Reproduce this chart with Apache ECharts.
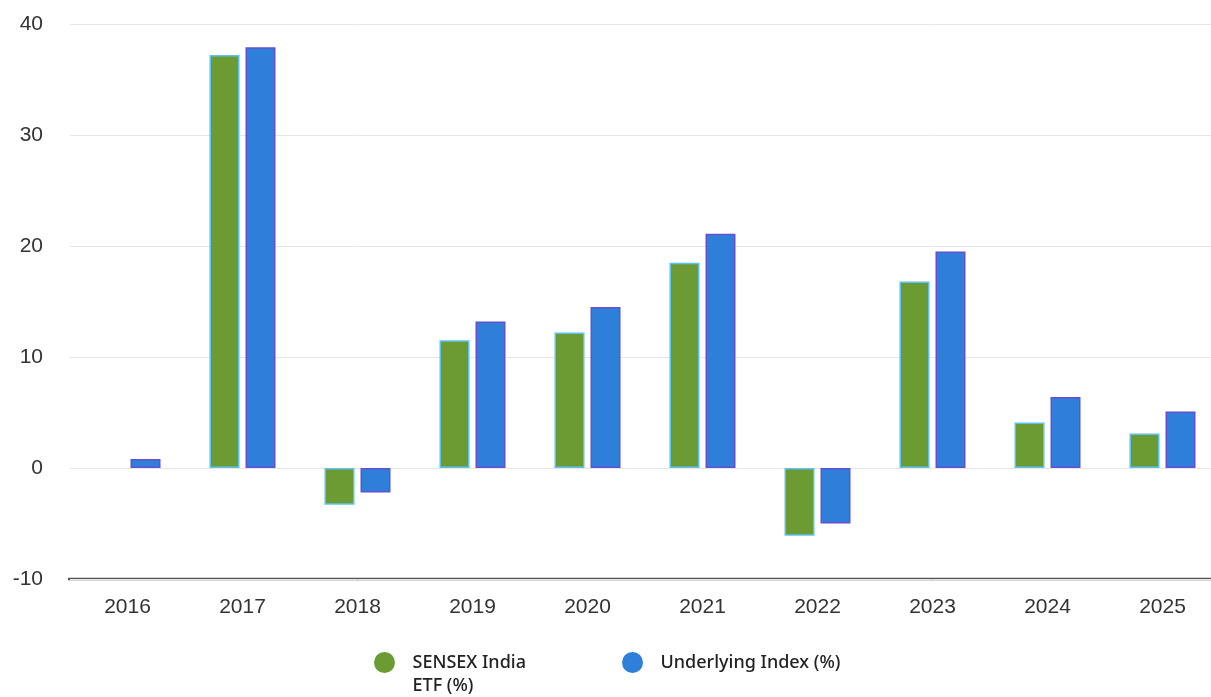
<!DOCTYPE html>
<html>
<head>
<meta charset="utf-8">
<script src="https://cdn.jsdelivr.net/npm/echarts@6/dist/echarts.min.js"></script>
<style>
  html, body { margin: 0; padding: 0; background: #fff; overflow: hidden; }
  #chart { width: 1220px; height: 697px; }
</style>
</head>
<body>
<div id="chart"></div>
<script>
const years = ['2016', '2017', '2018', '2019', '2020', '2021', '2022', '2023', '2024', '2025']
const etfValues = [null, 37.2, -3.3, 11.5, 12.2, 18.5, -6.1, 16.8, 4.1, 3.1]
const indexValues = [0.8, 37.9, -2.2, 13.2, 14.5, 21.1, -5.0, 19.5, 6.4, 5.1]
const yTicks = [-10, 0, 10, 20, 30, 40]

const legendText = { fontFamily: 'Noto Sans', fontSize: 18, fontWeight: 500, color: '#222', lineHeight: 23, padding: [0, 0, 0, 12] }

const myChart = echarts.init(document.getElementById('chart'))
let option = {
  animation: false,
  grid: { left: 70, top: 24, right: 0, bottom: 118, containLabel: false },
  legend: [
    {
      data: ['SENSEX India ETF (%)'],
      left: 369,
      top: 623,
      itemWidth: 22,
      itemHeight: 21,
      icon: 'circle',
      itemStyle: { borderWidth: 0 },
      textStyle: legendText,
      formatter: () => ' \nSENSEX India\nETF (%)'
    },
    {
      data: ['Underlying Index (%)'],
      left: 617,
      top: 646,
      itemWidth: 22,
      itemHeight: 21,
      icon: 'circle',
      itemStyle: { borderWidth: 0 },
      textStyle: legendText
    }
  ],
  xAxis: {
    type: 'category',
    data: years,
    axisTick: { show: false },
    axisLine: { show: false },
    axisLabel: { fontFamily: 'Liberation Sans', fontSize: 21, color: '#333', margin: 18 }
  },
  yAxis: {
    type: 'value',
    min: yTicks[0],
    max: yTicks[yTicks.length - 1],
    interval: 10,
    axisLabel: { fontFamily: 'Liberation Sans', fontSize: 21, color: '#333', margin: 27 },
    splitLine: { lineStyle: { color: '#e6e6e6', width: 1 } },
    axisLine: { show: false }
  },
  series: [
    {
      name: 'SENSEX India ETF (%)',
      type: 'bar',
      data: etfValues,
      barWidth: 30,
      barGap: '20%',
      itemStyle: { color: '#6d9b33', borderColor: '#5cc2f2', borderWidth: 1.5 }
    },
    {
      name: 'Underlying Index (%)',
      type: 'bar',
      data: indexValues,
      barWidth: 30,
      itemStyle: { color: '#2e7fd9', borderColor: '#6550cf', borderWidth: 1.5 }
    }
  ],
  graphic: [
    { type: 'line', shape: { x1: 68, y1: 579, x2: 1220, y2: 579 }, style: { stroke: '#555', lineWidth: 2.5 } }
  ]
}
myChart.setOption(option)
</script>
</body>
</html>
